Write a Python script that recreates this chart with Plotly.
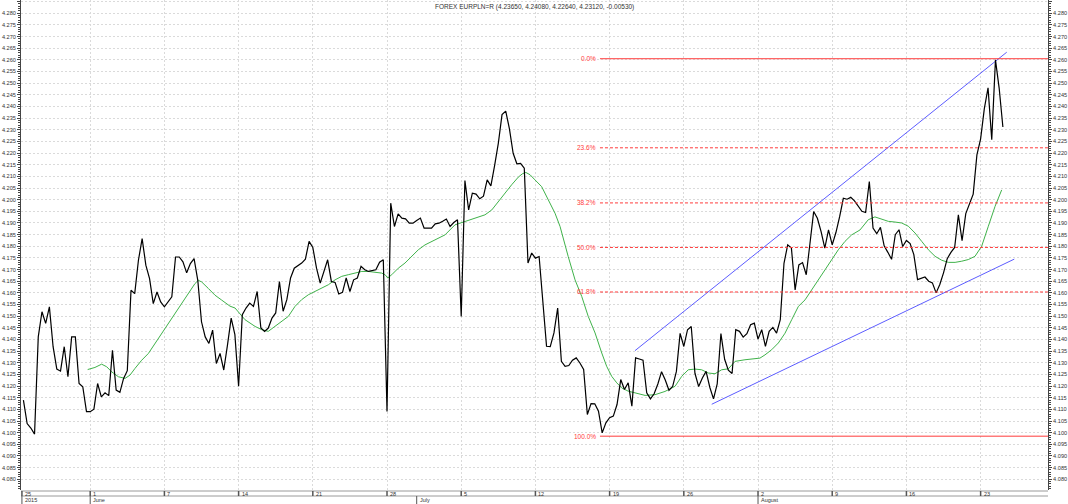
import plotly.graph_objects as go

# ---------------- data ----------------
# time axis in trading days; day 0 = start of the week of Mon 1 June 2015
START_DAY = -4.5
STEP_DAYS = 0.25   # one quote every 6 trading hours

close = [
    4.1140, 4.1039, 4.1020, 4.0994, 4.1411, 4.1519, 4.1469, 4.1540, 4.1369, 4.1273,
    4.1264, 4.1369, 4.1240, 4.1411, 4.1411, 4.1211, 4.1197, 4.1090, 4.1090, 4.1101,
    4.1211, 4.1154, 4.1171, 4.1159, 4.1354, 4.1183, 4.1173, 4.1233, 4.1266, 4.1611,
    4.1597, 4.1740, 4.1833, 4.1719, 4.1661, 4.1554, 4.1604, 4.1561, 4.1540, 4.1561,
    4.1583, 4.1754, 4.1754, 4.1733, 4.1686, 4.1726, 4.1747, 4.1654, 4.1476, 4.1411,
    4.1383, 4.1440, 4.1297, 4.1340, 4.1269, 4.1376, 4.1492, 4.1421, 4.1199, 4.1506,
    4.1535, 4.1556, 4.1542, 4.1606, 4.1449, 4.1435, 4.1449, 4.1492, 4.1514, 4.1649,
    4.1521, 4.1571, 4.1664, 4.1706, 4.1716, 4.1728, 4.1745, 4.1821, 4.1795, 4.1706,
    4.1642, 4.1692, 4.1742, 4.1649, 4.1645, 4.1595, 4.1602, 4.1664, 4.1606, 4.1656,
    4.1664, 4.1714, 4.1699, 4.1692, 4.1695, 4.1699, 4.1732, 4.1742, 4.1091, 4.1985,
    4.1885, 4.1939, 4.1921, 4.1918, 4.1899, 4.1899, 4.1911, 4.1921, 4.1878, 4.1878,
    4.1878, 4.1896, 4.1899, 4.1907, 4.1917, 4.1885, 4.1902, 4.1914, 4.1499, 4.2082,
    4.1956, 4.2028, 4.2024, 4.2004, 4.2015, 4.2085, 4.2059, 4.2146, 4.2242, 4.2365,
    4.2380, 4.2304, 4.2199, 4.2154, 4.2156, 4.2135, 4.1728, 4.1771, 4.1749, 4.1756,
    4.1542, 4.1371, 4.1369, 4.1428, 4.1535, 4.1306, 4.1285, 4.1288, 4.1311, 4.1321,
    4.1299, 4.1271, 4.1078, 4.1125, 4.1124, 4.1092, 4.0999, 4.1042, 4.1064, 4.1071,
    4.1121, 4.1228, 4.1185, 4.1214, 4.1114, 4.1321, 4.1316, 4.1311, 4.1171, 4.1145,
    4.1167, 4.1209, 4.1262, 4.1226, 4.1182, 4.1199, 4.1263, 4.1426, 4.1370, 4.1442,
    4.1456, 4.1255, 4.1198, 4.1235, 4.1263, 4.1195, 4.1145, 4.1209, 4.1425, 4.1315,
    4.1268, 4.1254, 4.1442, 4.1435, 4.1410, 4.1425, 4.1463, 4.1470, 4.1402, 4.1442,
    4.1370, 4.1435, 4.1452, 4.1427, 4.1485, 4.1727, 4.1806, 4.1792, 4.1613, 4.1720,
    4.1730, 4.1678, 4.1812, 4.1949, 4.1920, 4.1863, 4.1792, 4.1870, 4.1806, 4.1859,
    4.1927, 4.2006, 4.2002, 4.2010, 4.1995, 4.1973, 4.1950, 4.1945, 4.2078, 4.1878,
    4.1854, 4.1881, 4.1802, 4.1774, 4.1744, 4.1850, 4.1871, 4.1799, 4.1825, 4.1812,
    4.1764, 4.1657, 4.1661, 4.1668, 4.1650, 4.1643, 4.1600, 4.1636, 4.1686, 4.1747,
    4.1774, 4.1795, 4.1935, 4.1824, 4.1940, 4.1985, 4.2024, 4.2192, 4.2261, 4.2391,
    4.2480, 4.2257, 4.2600, 4.2478, 4.2312,
]

ma_day = [
    -0.17, 0.32, 0.77, 1.11, 1.45, 1.90, 2.35, 2.68, 3.02, 3.47, 3.92, 4.37, 4.82,
    5.26, 5.71, 6.17, 6.61, 7.06, 7.28, 7.51, 7.96, 8.41, 8.86, 9.42, 9.76, 10.43,
    11.11, 11.56, 12.00, 12.45, 12.90, 13.35, 13.80, 14.25, 14.70, 15.15, 15.60,
    16.05, 16.50, 16.95, 17.39, 17.84, 18.30, 18.74, 19.19, 19.64, 19.87, 20.05,
    20.32, 20.76, 21.21, 21.66, 22.11, 22.56, 23.01, 23.57, 23.91, 24.58, 25.26,
    25.93, 26.60, 27.06, 27.50, 27.95, 28.40, 28.85, 29.12, 29.35, 29.64, 29.97,
    30.42, 30.87, 31.32, 31.66, 31.99, 32.21, 32.67, 33.12, 33.56, 34.02, 34.47,
    34.80, 35.14, 35.48, 35.82, 36.26, 36.71, 37.39, 38.06, 38.73, 39.41, 39.86,
    40.30, 40.75, 41.20, 41.65, 42.10, 42.55, 43.00, 43.45, 44.12, 44.80, 45.13,
    45.47, 45.92, 46.37, 46.82, 47.27, 47.72, 48.17, 48.62, 49.06, 49.51, 49.96,
    50.41, 50.86, 51.31, 51.87, 52.43, 52.88, 53.33, 53.78, 54.23, 54.68, 55.13,
    55.58, 56.03, 56.48, 56.93, 57.38, 57.83, 58.28, 58.73, 59.17, 59.62, 60.07,
    60.52, 60.97, 61.42,
]
ma_val = [
    4.1271, 4.1280, 4.1294, 4.1283, 4.1261, 4.1240, 4.1233, 4.1247, 4.1276, 4.1311,
    4.1340, 4.1383, 4.1426, 4.1469, 4.1511, 4.1554, 4.1597, 4.1640, 4.1654, 4.1647,
    4.1619, 4.1590, 4.1569, 4.1543, 4.1535, 4.1485, 4.1456, 4.1442, 4.1435, 4.1456,
    4.1478, 4.1499, 4.1542, 4.1571, 4.1592, 4.1606, 4.1621, 4.1635, 4.1656, 4.1671,
    4.1678, 4.1685, 4.1692, 4.1692, 4.1688, 4.1685, 4.1678, 4.1664, 4.1678, 4.1706,
    4.1728, 4.1756, 4.1785, 4.1806, 4.1821, 4.1840, 4.1849, 4.1892, 4.1906, 4.1921,
    4.1935, 4.1956, 4.1992, 4.2028, 4.2064, 4.2097, 4.2111, 4.2117, 4.2107, 4.2085,
    4.2056, 4.1999, 4.1942, 4.1885, 4.1814, 4.1756, 4.1656, 4.1585, 4.1499, 4.1428,
    4.1342, 4.1285, 4.1242, 4.1214, 4.1192, 4.1178, 4.1171, 4.1160, 4.1163, 4.1177,
    4.1199, 4.1242, 4.1270, 4.1273, 4.1270, 4.1256, 4.1253, 4.1270, 4.1274, 4.1306,
    4.1313, 4.1317, 4.1320, 4.1334, 4.1356, 4.1385, 4.1427, 4.1485, 4.1542, 4.1570,
    4.1613, 4.1656, 4.1699, 4.1742, 4.1785, 4.1821, 4.1849, 4.1870, 4.1914, 4.1926,
    4.1917, 4.1907, 4.1904, 4.1900, 4.1886, 4.1857, 4.1821, 4.1785, 4.1757, 4.1740,
    4.1731, 4.1731, 4.1736, 4.1743, 4.1757, 4.1800, 4.1886, 4.1971, 4.2042,
]

# trend channel anchors (day, price)
upper_day = [36.71, 61.76]
upper_val = [4.1352, 4.2633]
lower_day = [41.88, 62.27]
lower_val = [4.1122, 4.1745]

# Fibonacci retracement
fib_ratio = [0.0, 0.236, 0.382, 0.5, 0.618, 1.0]
fib_label = ["0.0%", "23.6%", "38.2%", "50.0%", "61.8%", "100.0%"]
fib_high = 4.2605
fib_low = 4.0985
fib_start_day = 34.35

# time axis labels
week_tick_day = [-4.6, 0, 5, 10, 15, 20, 25, 30, 35, 40, 45, 50, 55, 60]
week_tick_label = ["25", "1", "7", "14", "21", "28", "5", "12", "19", "26", "2", "9", "16", "23"]
month_day = [-4.6, 0, 22, 45]
month_label = ["2015", "June", "July", "August"]

title_text = "FOREX EURPLN=R (4.23650, 4.24080, 4.22640, 4.23120, -0.00530)"

# ---------------- figure ----------------
W, H = 1068, 504
ML, MR, MT, MB = 21, 20, 0, 14
PLOT_H = H - MT - MB
X_RANGE = [-4.663, 64.54]
Y_RANGE = [4.0754, 4.2857]

days = [START_DAY + STEP_DAYS * i for i in range(len(close))]

GRID = "#dadada"
AX = "#444444"
RED = "#ff3b3b"
FONT = "Liberation Sans, Arial, sans-serif"

fig = go.Figure()

fig.add_trace(go.Scatter(x=ma_day, y=ma_val, mode="lines",
                         line=dict(color="#3fb24a", width=1), hoverinfo="skip"))
fig.add_trace(go.Scatter(x=upper_day, y=upper_val, mode="lines",
                         line=dict(color="#5c5cff", width=1), hoverinfo="skip"))
fig.add_trace(go.Scatter(x=lower_day, y=lower_val, mode="lines",
                         line=dict(color="#5c5cff", width=1), hoverinfo="skip"))
fig.add_trace(go.Scatter(x=days, y=close, mode="lines",
                         line=dict(color="black", width=1.2), name="EURPLN"))
# invisible trace to activate the right-hand axis
fig.add_trace(go.Scatter(x=[days[0]], y=[close[0]], yaxis="y2", mode="markers",
                         marker=dict(opacity=0), hoverinfo="skip"))

shapes = []
annotations = []

# Fibonacci levels
for r, lab in zip(fib_ratio, fib_label):
    lvl = fib_high - r * (fib_high - fib_low)
    solid = r in (0.0, 1.0)
    shapes.append(dict(type="line", xref="x", yref="y", x0=fib_start_day, x1=X_RANGE[1],
                       y0=lvl, y1=lvl, layer="above",
                       line=dict(color=RED, width=1, dash="solid" if solid else "3px,2px")))
    annotations.append(dict(xref="x", yref="y", x=fib_start_day, y=lvl, text=lab,
                            showarrow=False, xanchor="right", yanchor="middle", xshift=-2,
                            font=dict(size=6.5, color=RED, family=FONT)))

# date strip below the plot
def py(px):
    return (H - MB - px) / PLOT_H

row1_top, row1_bot, row2_bot = 491, 496, 504
for yy in (row1_top, row1_bot):
    shapes.append(dict(type="line", xref="paper", yref="paper", x0=0, x1=1,
                       y0=py(yy), y1=py(yy), line=dict(color="#9a9a9a", width=1)))
for d, lab in zip(week_tick_day, week_tick_label):
    shapes.append(dict(type="line", xref="x", yref="paper", x0=d, x1=d,
                       y0=py(row1_top), y1=py(row1_bot), line=dict(color="#555", width=1.5)))
    annotations.append(dict(xref="x", yref="paper", x=d, y=py((row1_top + row1_bot) / 2),
                            text=lab, showarrow=False, xanchor="left", yanchor="middle",
                            xshift=1, font=dict(size=5.5, color="#333", family=FONT)))
for d, lab in zip(month_day, month_label):
    shapes.append(dict(type="line", xref="x", yref="paper", x0=d, x1=d,
                       y0=py(row1_bot), y1=py(row2_bot), line=dict(color="#555", width=1)))
    annotations.append(dict(xref="x", yref="paper", x=d, y=py((row1_bot + row2_bot) / 2),
                            text=lab, showarrow=False, xanchor="left", yanchor="middle",
                            xshift=1, font=dict(size=5.5, color="#333", family=FONT)))

annotations.append(dict(xref="paper", yref="paper", x=0.5, y=1, yshift=-1, text=title_text,
                        showarrow=False, xanchor="center", yanchor="top",
                        font=dict(size=6.5, color="#333", family=FONT)))

yax_common = dict(
    range=Y_RANGE, tick0=4.08, dtick=0.005, tickformat=".3f",
    ticks="outside", ticklen=3, tickcolor=AX, tickwidth=1,
    showline=True, linecolor=AX, linewidth=1, zeroline=False,
    tickfont=dict(size=5.6, color="#333", family=FONT),
    minor=dict(dtick=0.001, ticks="outside", ticklen=2, tickcolor=AX, showgrid=False),
)

fig.update_layout(
    width=W, height=H, autosize=False,
    margin=dict(l=ML, r=MR, t=MT, b=MB, pad=0),
    paper_bgcolor="white", plot_bgcolor="white",
    showlegend=False,
    font=dict(family=FONT),
    xaxis=dict(range=X_RANGE, tickvals=week_tick_day[1:], showticklabels=False, ticks="",
               showgrid=True, gridcolor=GRID, griddash="2px,2px", gridwidth=1,
               zeroline=False, showline=False, fixedrange=True),
    yaxis=dict(**yax_common, side="left", showgrid=True, gridcolor=GRID,
               griddash="2px,2px", gridwidth=1),
    yaxis2=dict(**yax_common, side="right", overlaying="y", showgrid=False),
    shapes=shapes,
    annotations=annotations,
)

fig.write_html("out.html", include_plotlyjs=True, full_html=True,
               config={"displayModeBar": False},
               post_script="document.body.style.margin='0';")
